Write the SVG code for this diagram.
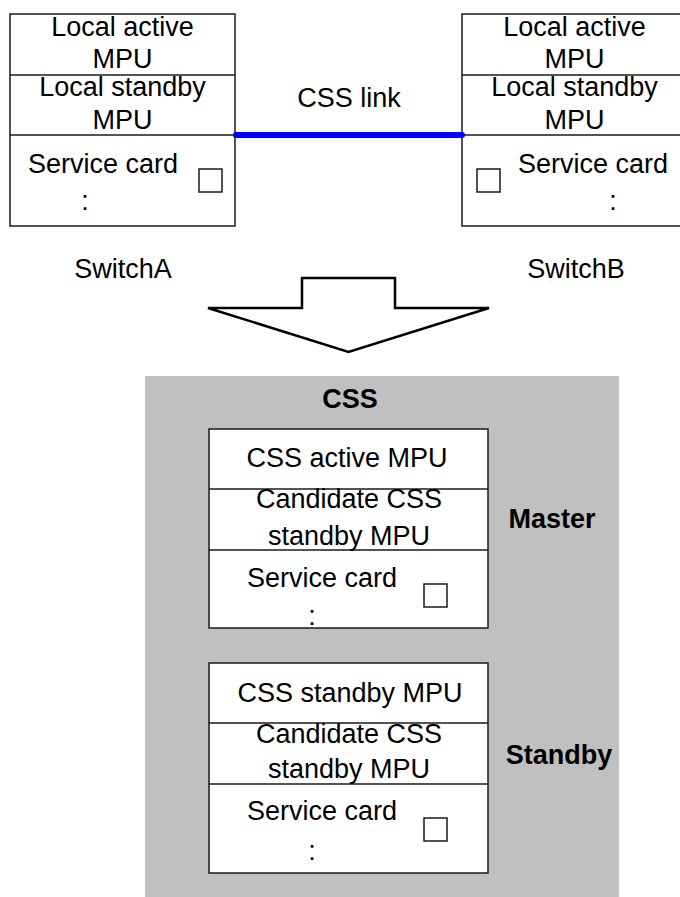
<svg xmlns="http://www.w3.org/2000/svg" width="680" height="897" viewBox="0 0 680 897">
  <style>
    .box { fill: #ffffff; stroke: #1a1a1a; stroke-width: 1.5; }
    .div { stroke: #1a1a1a; stroke-width: 1.5; fill: none; }
    .sq { fill: #ffffff; stroke: #1a1a1a; stroke-width: 1.5; }
    .t { font-family: "Liberation Sans", Arial, sans-serif; font-size: 27px; fill: #000000; text-anchor: middle; }
    .b { font-weight: bold; }
  </style>
  <rect width="680" height="897" fill="#ffffff"/>

  <!-- SwitchA chassis -->
  <g id="switchA">
    <rect class="box" x="10" y="14" width="225" height="212"/>
    <line class="div" x1="10" y1="75" x2="235" y2="75"/>
    <line class="div" x1="10" y1="135" x2="235" y2="135"/>
    <text class="t" x="122.5" y="36">Local active</text>
    <text class="t" x="122.5" y="68">MPU</text>
    <text class="t" x="122.5" y="96">Local standby</text>
    <text class="t" x="122.5" y="129">MPU</text>
    <text class="t" x="103" y="173">Service card</text>
    <text class="t" x="85" y="210">:</text>
    <rect class="sq" x="199" y="169" width="23" height="23"/>
    <text class="t" x="123" y="278">SwitchA</text>
  </g>

  <!-- SwitchB chassis -->
  <g id="switchB">
    <rect class="box" x="462" y="14" width="225" height="212"/>
    <line class="div" x1="462" y1="75" x2="687" y2="75"/>
    <line class="div" x1="462" y1="135" x2="687" y2="135"/>
    <text class="t" x="574.5" y="36">Local active</text>
    <text class="t" x="574.5" y="68">MPU</text>
    <text class="t" x="574.5" y="96">Local standby</text>
    <text class="t" x="574.5" y="129">MPU</text>
    <text class="t" x="593" y="173">Service card</text>
    <text class="t" x="613" y="210">:</text>
    <rect class="sq" x="477" y="169" width="23" height="23"/>
    <text class="t" x="576" y="278">SwitchB</text>
  </g>

  <!-- CSS link between the two chassis -->
  <g id="connectors">
    <line x1="236" y1="135" x2="462" y2="135" stroke="#0000ff" stroke-width="6" stroke-linecap="round"/>
    <text class="t" x="349" y="107">CSS link</text>
  </g>

  <!-- Merge arrow -->
  <g id="arrow">
    <polygon points="208,308 302,308 302,278 395,278 395,308 489,308 348.5,352" fill="#ffffff" stroke="#000000" stroke-width="2.5" stroke-linejoin="miter"/>
  </g>

  <!-- Combined CSS system -->
  <g id="css">
    <rect x="145" y="376" width="474" height="521" fill="#c0c0c0"/>
    <text class="t b" x="350" y="408">CSS</text>
  </g>

  <g id="master">
    <rect class="box" x="209" y="429" width="279" height="199"/>
    <line class="div" x1="209" y1="489" x2="488" y2="489"/>
    <line class="div" x1="209" y1="550" x2="488" y2="550"/>
    <text class="t" x="347" y="467">CSS active MPU</text>
    <text class="t" x="349" y="508">Candidate CSS</text>
    <text class="t" x="349" y="545">standby MPU</text>
    <text class="t" x="322" y="587">Service card</text>
    <text class="t" x="312" y="625">:</text>
    <rect class="sq" x="424" y="584" width="23" height="23"/>
    <text class="t b" x="552" y="528">Master</text>
  </g>

  <g id="standby">
    <rect class="box" x="209" y="663" width="279" height="210"/>
    <line class="div" x1="209" y1="723" x2="488" y2="723"/>
    <line class="div" x1="209" y1="784" x2="488" y2="784"/>
    <text class="t" x="350" y="702">CSS standby MPU</text>
    <text class="t" x="349" y="743">Candidate CSS</text>
    <text class="t" x="349" y="778">standby MPU</text>
    <text class="t" x="322" y="820">Service card</text>
    <text class="t" x="312" y="860">:</text>
    <rect class="sq" x="424" y="818" width="23" height="23"/>
    <text class="t b" x="559" y="764">Standby</text>
  </g>
</svg>
